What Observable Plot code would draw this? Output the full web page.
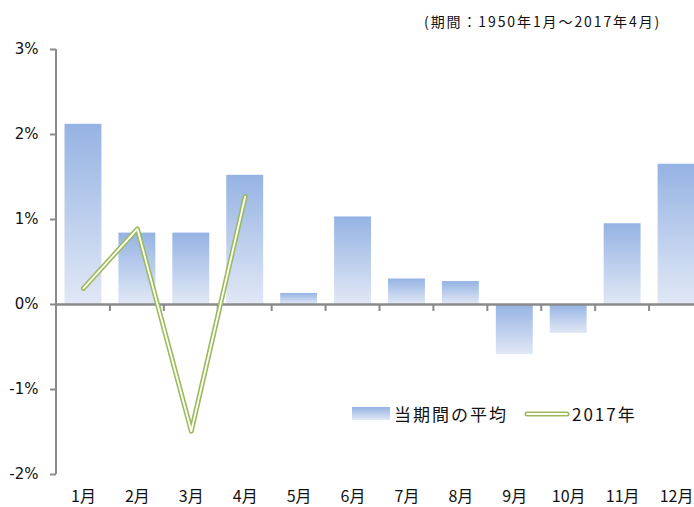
<!DOCTYPE html>
<html><head><meta charset="utf-8">
<script src="https://cdn.jsdelivr.net/npm/d3@7"></script>
<script src="https://cdn.jsdelivr.net/npm/@observablehq/plot@0.6"></script>
<style>
html,body{margin:0;padding:0;background:#fff;overflow:hidden;}
#wrap{position:relative;width:694px;height:507px;overflow:hidden;font-family:"DejaVu Sans","Noto Sans CJK JP",sans-serif;color:#111;}
#subtitle{position:absolute;left:424px;top:11px;font-size:14px;letter-spacing:1.9px;white-space:nowrap;font-family:"Noto Sans CJK JP",sans-serif;}
#legend{position:absolute;left:352px;top:401px;font-size:17px;letter-spacing:2px;white-space:nowrap;display:flex;align-items:center;font-family:"Noto Sans CJK JP",sans-serif;}
.swatch-bar{width:38px;height:13px;background:linear-gradient(to bottom,#95b3e3,#e1e8f6);margin-right:4px;}
.swatch-line{margin-left:16px;margin-right:2px;}
</style></head><body>
<div id="wrap"></div>
<script>
const months = ["1月","2月","3月","4月","5月","6月","7月","8月","9月","10月","11月","12月"];
const averages = [2.12,0.84,0.84,1.52,0.13,1.03,0.30,0.27,-0.59,-0.34,0.95,1.65];
const months2017 = ["1月","2月","3月","4月"];
const values2017 = [0.19,0.89,-1.49,1.27];
const yTicks = [3,2,1,0,-1,-2];
const subtitleText = "(期間：1950年1月～2017年4月)";
const legendLabels = ["当期間の平均","2017年"];

const barData = months.map((m,i)=>({month:m, value:averages[i]}));
const lineData = months2017.map((m,i)=>({month:m, value:values2017[i]}));

const gradientDefs = () => {
  const defs = d3.create("svg:defs");
  const g = defs.append("linearGradient").attr("id","barGrad")
    .attr("x1",0).attr("y1",0).attr("x2",0).attr("y2",1);
  g.append("stop").attr("offset","0%").attr("stop-color","#95b3e3");
  g.append("stop").attr("offset","100%").attr("stop-color","#e1e8f6");
  return defs.node();
};

const axisDecor = (index, scales) => {
  const x = scales.x, y = scales.y;
  const step = x(months[1]) - x(months[0]);
  const g = d3.create("svg:g").attr("stroke","#8a8a8a").attr("stroke-width",2);
  const left = x(months[0]);
  g.append("line").attr("x1",left).attr("x2",left).attr("y1",y(yTicks[0])).attr("y2",y(yTicks[yTicks.length-1]));
  for (let i = 1; i <= months.length; i++) {
    const bx = left + i * step;
    g.append("line").attr("x1",bx).attr("x2",bx).attr("y1",y(0)).attr("y2",y(0)+7);
  }
  return g.node();
};

const chart = Plot.plot({
  width: 694,
  height: 507,
  marginLeft: 56,
  marginRight: 0,
  marginTop: 49,
  marginBottom: 33,
  style: {fontFamily: '"DejaVu Sans","Noto Sans CJK JP",sans-serif', color: "#111", background: "#fff"},
  x: {domain: months, range: [56, 703], padding: 0, align: 0, round: false, label: null},
  y: {domain: [-2, 3], ticks: yTicks, label: null},
  marks: [
    gradientDefs,
    Plot.barY(barData, {x: "month", y: "value", fill: "url(#barGrad)", insetLeft: 8.5, insetRight: 8.5}),
    Plot.ruleY([0], {stroke: "#8a8a8a", strokeWidth: 2.5}),
    axisDecor,
    Plot.axisY({ticks: yTicks, tickSize: 6, tickPadding: 12, tickFormat: d => d + "%", stroke: "#8a8a8a", strokeWidth: 2, fontSize: 15, label: null}),
    Plot.axisX({tickSize: 0, tickPadding: 16, fontSize: 16, fontFamily: '"Noto Sans CJK JP",sans-serif', letterSpacing: 1, label: null}),
    Plot.line(lineData, {x: "month", y: "value", stroke: "#9bbb59", strokeWidth: 5, strokeLinejoin: "round", strokeLinecap: "round"}),
    Plot.line(lineData, {x: "month", y: "value", stroke: "#ffffff", strokeWidth: 1.8, strokeLinejoin: "round", strokeLinecap: "round"})
  ]
});

const wrap = document.getElementById("wrap");
wrap.appendChild(chart);
const sub = document.createElement("div");
sub.id = "subtitle"; sub.textContent = subtitleText;
wrap.appendChild(sub);
const leg = document.createElement("div");
leg.id = "legend";
leg.innerHTML = `<div class="swatch-bar"></div><span>${legendLabels[0]}</span>` +
  `<svg class="swatch-line" width="46" height="10"><line x1="3" x2="43" y1="5" y2="5" stroke="#9bbb59" stroke-width="5" stroke-linecap="round"/><line x1="3" x2="43" y1="5" y2="5" stroke="#fff" stroke-width="1.8" stroke-linecap="round"/></svg><span>${legendLabels[1]}</span>`;
wrap.appendChild(leg);
</script>
</body></html>
